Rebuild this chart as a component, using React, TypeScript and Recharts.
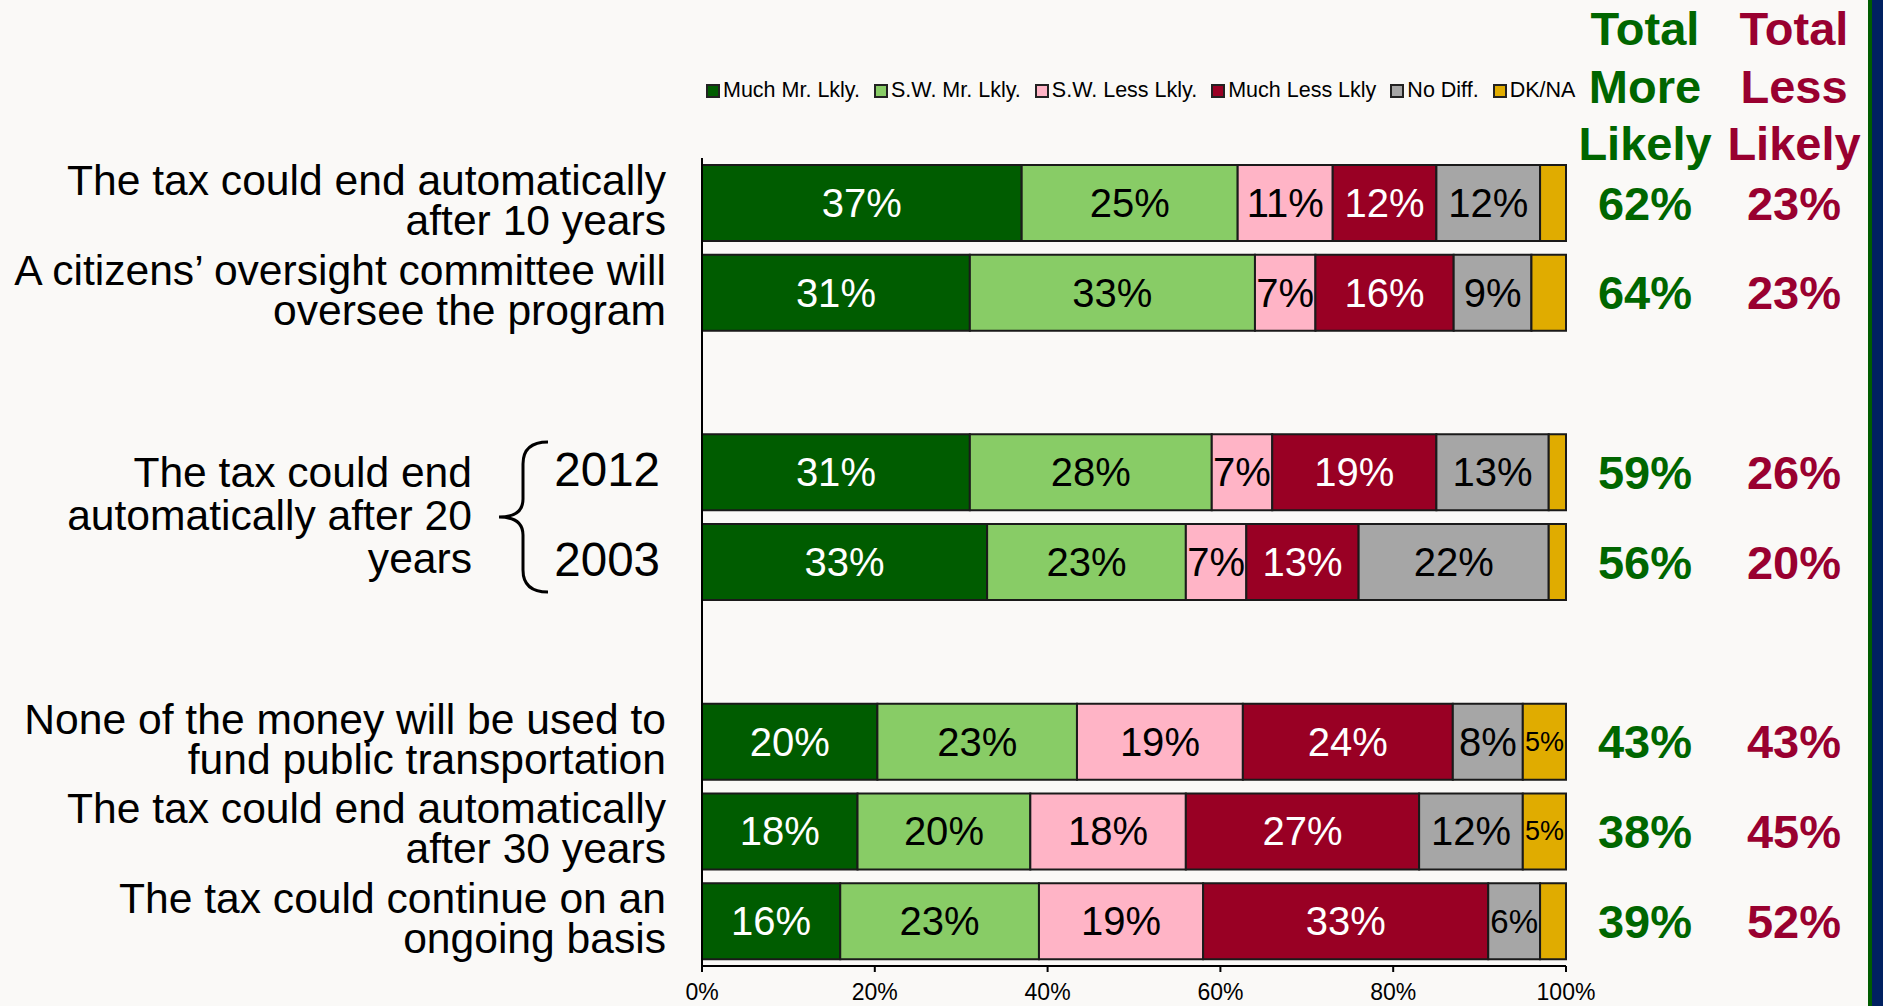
import React from "react";
import { BarChart, Bar, XAxis, YAxis, LabelList } from "recharts";

// rows top to bottom; the two "gap" rows are empty spacer categories
const rowKeys = ["r1", "r2", "gap1", "r3", "r4", "gap2", "r5", "r6", "r7"];
const rowLabels = [
  ["The tax could end automatically", "after 10 years"],
  ["A citizens’ oversight committee will", "oversee the program"],
  [],
  ["2012"],
  ["2003"],
  [],
  ["None of the money will be used to", "fund public transportation"],
  ["The tax could end automatically", "after 30 years"],
  ["The tax could continue on an", "ongoing basis"],
];
const groupLabel = ["The tax could end", "automatically after 20", "years"];

const muchMore = [37, 31, null, 31, 33, null, 20.3, 18, 16];
const swMore = [25, 33, null, 28, 23, null, 23.1, 20, 23];
const swLess = [11, 7, null, 7, 7, null, 19.2, 18, 19];
const muchLess = [12, 16, null, 19, 13, null, 24.3, 27, 33];
const noDiff = [12, 9, null, 13, 22, null, 8.1, 12, 6];
const dkna = [3, 4, null, 2, 2, null, 5, 5, 3];

const totalMore = [62, 64, null, 59, 56, null, 43, 38, 39];
const totalLess = [23, 23, null, 26, 20, null, 43, 45, 52];

const xTicks = [0, 20, 40, 60, 80, 100];

const series = [
  { key: "muchMore", name: "Much Mr. Lkly.", values: muchMore, color: "#005C00", text: "#fff" },
  { key: "swMore", name: "S.W. Mr. Lkly.", values: swMore, color: "#88CC66", text: "#000" },
  { key: "swLess", name: "S.W. Less Lkly.", values: swLess, color: "#FFB4C6", text: "#000" },
  { key: "muchLess", name: "Much Less Lkly", values: muchLess, color: "#990024", text: "#fff" },
  { key: "noDiff", name: "No Diff.", values: noDiff, color: "#A6A6A6", text: "#000" },
  { key: "dkna", name: "DK/NA", values: dkna, color: "#E0AC00", text: "#000" },
];

const data = rowKeys.map((key, i) => {
  const row: any = { key, totalMore: totalMore[i], totalLess: totalLess[i] };
  series.forEach((s) => (row[s.key] = s.values[i]));
  return row;
});

const FONT = "'Liberation Sans', Arial, Helvetica, sans-serif";
const W = 1883;
const H = 1006;
const TOP = 158;
const XAXIS_H = 40;
const BAND = (H - TOP - XAXIS_H) / rowKeys.length;
const GREEN = "#006600";
const RED = "#990030";

const RowTick = (props: any) => {
  const { y, index } = props;
  const lines = rowLabels[index] || [];
  const lh = 40;
  const isYear = index === 3 || index === 4;
  const x = isYear ? 660 : 666;
  const out: React.ReactNode[] = lines.map((t, i) => (
    <text
      key={i}
      x={x}
      y={y - 3 + (i - (lines.length - 1) / 2) * lh}
      textAnchor="end"
      dominantBaseline="central"
      fontSize={isYear ? 47.5 : 42.6}
      fill="#000"
      fontFamily={FONT}
    >
      {t}
    </text>
  ));
  if (index === 3) {
    const mid = y + BAND / 2;
    const T = mid - 75;
    const B = mid + 75;
    const xr = 548;
    const xm = 523;
    const xt = 499;
    out.push(
      <path
        key="brace"
        d={`M${xr},${T} Q${xm},${T} ${xm},${T + 22} L${xm},${mid - 18} Q${xm},${mid} ${xt},${mid} Q${xm},${mid} ${xm},${mid + 18} L${xm},${B - 22} Q${xm},${B} ${xr},${B}`}
        fill="none"
        stroke="#000"
        strokeWidth={3}
      />
    );
    groupLabel.forEach((t, i) =>
      out.push(
        <text
          key={"g" + i}
          x={472}
          y={mid - 2 + (i - 1) * 43}
          textAnchor="end"
          dominantBaseline="central"
          fontSize={42.6}
          fill="#000"
          fontFamily={FONT}
        >
          {t}
        </text>
      )
    );
  }
  return <g>{out}</g>;
};

const rawValue = (value: any) => {
  if (Array.isArray(value)) return value[1] - value[0];
  return value;
};

const segLabel = (s: any) => (props: any) => {
  const { x, y, width, height } = props;
  const v = rawValue(props.value);
  if (v == null || isNaN(v) || v < 5) return null;
  const shown = Math.round(v);
  const fs = shown >= 7 ? 40 : shown === 6 ? 33 : 27;
  return (
    <text
      x={x + width / 2}
      y={y + height / 2}
      textAnchor="middle"
      dominantBaseline="central"
      fontSize={fs}
      fill={s.text}
      fontFamily={FONT}
    >
      {shown}%
    </text>
  );
};

const totalLabel = (cx: number, color: string) => (props: any) => {
  const { y, height, value } = props;
  if (value == null) return null;
  return (
    <text
      x={cx}
      y={y + height / 2}
      textAnchor="middle"
      dominantBaseline="central"
      fill={color}
      fontFamily={FONT}
      fontWeight="bold"
      fontSize={47}
    >
      {value}%
    </text>
  );
};

const headerStyle = (cx: number, color: string): React.CSSProperties => ({
  position: "absolute",
  left: cx - 100,
  top: 0,
  width: 200,
  textAlign: "center",
  color,
  fontWeight: "bold",
  fontSize: 47,
  lineHeight: "57.5px",
  fontFamily: FONT,
});

export default function App() {
  return (
    <div
      style={{
        position: "absolute",
        left: 0,
        top: 0,
        width: W,
        height: H,
        background: "#FAF9F7",
        overflow: "hidden",
        fontFamily: FONT,
      }}
    >
      <BarChart
        width={W}
        height={H}
        layout="vertical"
        data={data}
        margin={{ top: TOP, right: 317, bottom: 0, left: 0 }}
        barCategoryGap={7}
      >
        <XAxis
          type="number"
          domain={[0, 100]}
          ticks={xTicks}
          tickFormatter={(v) => `${v}%`}
          height={XAXIS_H}
          axisLine={{ stroke: "#000", strokeWidth: 2 }}
          tickLine={{ stroke: "#000", strokeWidth: 2 }}
          tickSize={6}
          tickMargin={12}
          tick={{ fill: "#000", fontSize: 23, fontFamily: FONT }}
        />
        <YAxis
          type="category"
          dataKey="key"
          width={702}
          interval={0}
          tickLine={false}
          axisLine={{ stroke: "#000", strokeWidth: 2 }}
          tick={(p: any) => <RowTick {...p} />}
        />
        {series.map((s) => (
          <Bar
            key={s.key}
            dataKey={s.key}
            stackId="a"
            fill={s.color}
            stroke="#1a1a1a"
            strokeWidth={2}
            isAnimationActive={false}
          >
            <LabelList dataKey={s.key} content={segLabel(s)} />
            {s.key === "dkna" && <LabelList dataKey="totalMore" content={totalLabel(1645, GREEN)} />}
            {s.key === "dkna" && <LabelList dataKey="totalLess" content={totalLabel(1794, RED)} />}
          </Bar>
        ))}
      </BarChart>

      <div
        style={{
          position: "absolute",
          left: 706,
          top: 78,
          display: "flex",
          alignItems: "center",
          fontSize: 21.5,
          color: "#000",
          whiteSpace: "nowrap",
        }}
      >
        {series.map((s) => (
          <div key={s.key} style={{ display: "flex", alignItems: "center", marginRight: 14 }}>
            <span
              style={{
                display: "inline-block",
                width: 10,
                height: 10,
                background: s.color,
                border: "2px solid #222",
                marginRight: 3,
              }}
            />
            <span>{s.name}</span>
          </div>
        ))}
      </div>

      <div style={headerStyle(1645, GREEN)}>
        Total
        <br />
        More
        <br />
        Likely
      </div>
      <div style={headerStyle(1794, RED)}>
        Total
        <br />
        Less
        <br />
        Likely
      </div>

      <div style={{ position: "absolute", left: 1868, top: 0, width: 4, height: H, background: "#005C00" }} />
      <div style={{ position: "absolute", left: 1872, top: 0, width: 11, height: H, background: "#002060" }} />
    </div>
  );
}
